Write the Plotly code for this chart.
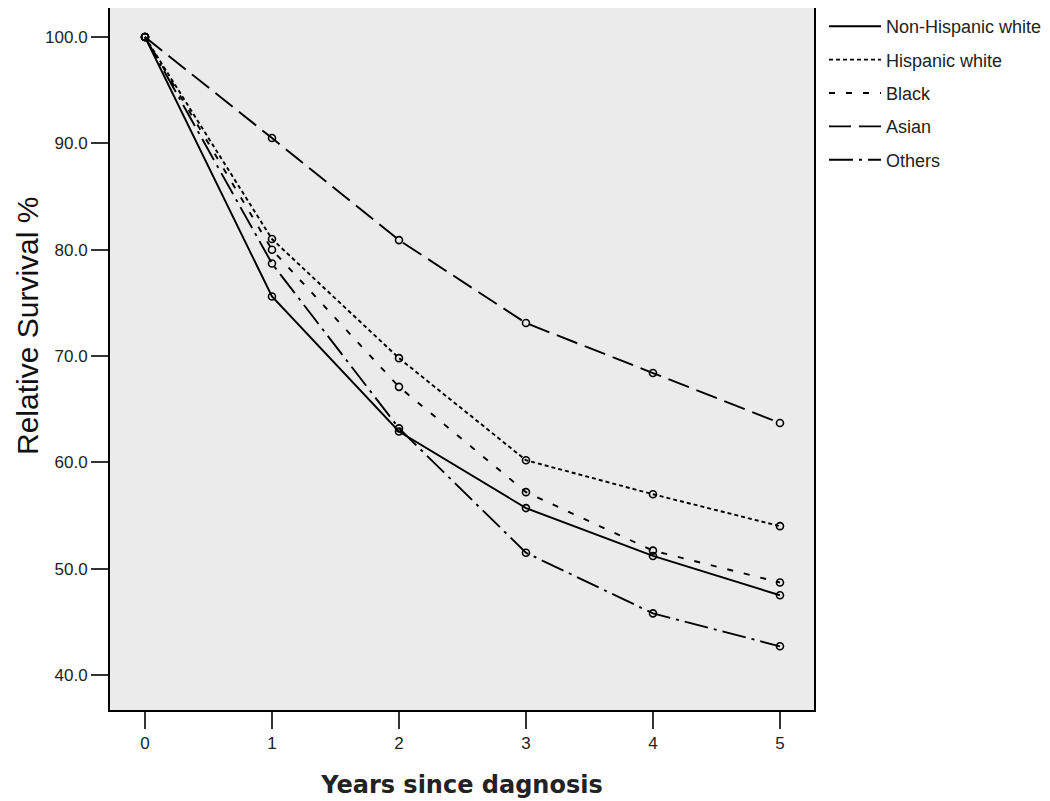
import plotly.graph_objects as go

# years since diagnosis
years = [0, 1, 2, 3, 4, 5]

# relative survival % by group
non_hispanic_white = [100.0, 75.6, 62.9, 55.7, 51.2, 47.5]
hispanic_white = [100.0, 81.0, 69.8, 60.2, 57.0, 54.0]
black = [100.0, 80.0, 67.1, 57.2, 51.7, 48.7]
asian = [100.0, 90.5, 80.9, 73.1, 68.4, 63.7]
others = [100.0, 78.7, 63.2, 51.5, 45.8, 42.7]

y_ticks = [40, 50, 60, 70, 80, 90, 100]

series = [
    ("Non-Hispanic white", non_hispanic_white, "solid"),
    ("Hispanic white", hispanic_white, "4px,3px"),
    ("Black", black, "6px,11px"),
    ("Asian", asian, "22px,8px"),
    ("Others", others, "24px,6px,3px,6px"),
]

fig = go.Figure()
for i, (name, vals, dash) in enumerate(series):
    fig.add_trace(go.Scatter(
        x=years, y=vals, name=name, mode="lines+markers", showlegend=False,
        line=dict(color="black", width=1.9, dash=dash),
        marker=dict(symbol="circle-open", size=7, color="black", line=dict(width=1.6)),
    ))
    # legend entry without the marker
    fig.add_trace(go.Scatter(
        x=[None], y=[None], name=name, mode="lines",
        line=dict(color="black", width=1.9, dash=dash),
        legendgroup=str(i),
    ))

# page has an 8px body margin, so the figure is sized 1042x793
fig.update_layout(
    width=1042, height=793,
    margin=dict(l=102, r=236, t=0, b=91),
    paper_bgcolor="white",
    plot_bgcolor="#ebebeb",
    font=dict(family="Liberation Sans, Arial", size=16, color="#222"),
    legend=dict(x=1.0142, y=1.0, xanchor="left", yanchor="top",
                font=dict(size=18, color="#222"), tracegroupgap=7,
                itemwidth=52, bgcolor="rgba(0,0,0,0)"),
    xaxis=dict(
        range=[-0.2756, 5.268], tickvals=years, ticks="outside", ticklen=17,
        tickwidth=2, tickcolor="#333", showgrid=False, zeroline=False,
        tickfont=dict(size=17), automargin=False,
        showline=True, linecolor="black", linewidth=2, mirror=True,
        title=dict(text="<b>Years since dagnosis</b>",
                   font=dict(family="DejaVu Sans", size=24, color="#222"), standoff=24),
    ),
    yaxis=dict(
        range=[36.71, 102.73], tickvals=y_ticks, tickformat=".1f",
        ticks="outside", ticklen=17, tickwidth=2, tickcolor="#333",
        tickfont=dict(size=17), automargin=False,
        showgrid=False, zeroline=False,
        showline=True, linecolor="black", linewidth=2, mirror=True,
    ),
    annotations=[dict(
        text="Relative Survival %", textangle=-90, showarrow=False,
        xref="paper", yref="paper", x=-0.1179, y=0.547,
        xanchor="center", yanchor="middle",
        font=dict(family="Liberation Sans, Arial", size=30, color="#111"),
    )],
)

fig.write_html("out.html")
